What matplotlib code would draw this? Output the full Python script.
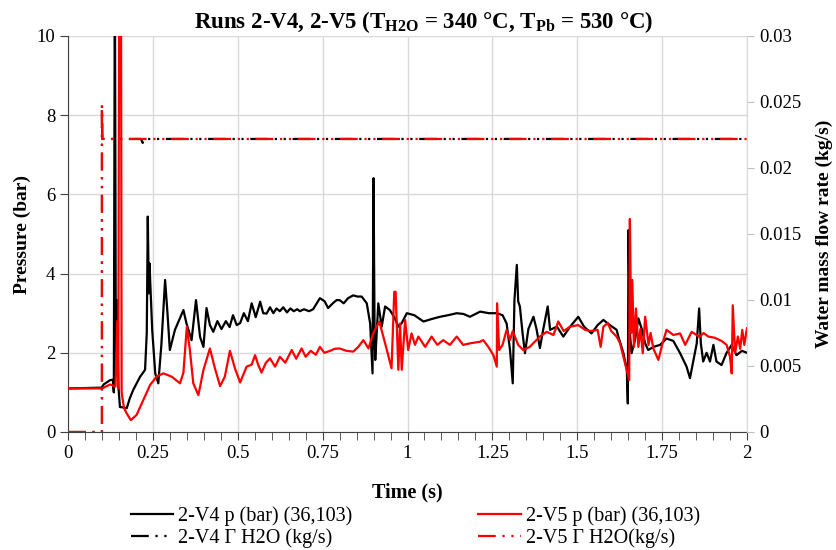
import matplotlib
matplotlib.use("Agg")
import matplotlib.pyplot as plt

plt.rcParams['font.family'] = ['Liberation Serif', 'DejaVu Serif']
plt.rcParams['mathtext.fontset'] = 'custom'
plt.rcParams['mathtext.rm'] = 'Liberation Serif:bold'
plt.rcParams['mathtext.it'] = 'Liberation Serif:bold'
plt.rcParams['mathtext.bf'] = 'Liberation Serif:bold'

# ---------------- data ----------------
v4_t = [0, 0.099, 0.105, 0.124, 0.132, 0.135, 0.138, 0.141, 0.145, 0.148, 0.153, 0.163, 0.173,
        0.182, 0.192, 0.212, 0.227, 0.232, 0.235, 0.238, 0.240, 0.248, 0.257, 0.266, 0.275,
        0.286, 0.293, 0.300, 0.315, 0.340, 0.349, 0.364, 0.377, 0.389, 0.399, 0.408, 0.418,
        0.428, 0.44, 0.452, 0.465, 0.476, 0.486, 0.497, 0.507, 0.518, 0.53, 0.541, 0.553,
        0.566, 0.575, 0.585, 0.595, 0.605, 0.614, 0.624, 0.634, 0.645, 0.655, 0.665, 0.675,
        0.683, 0.695, 0.71, 0.722, 0.742, 0.756, 0.766, 0.78, 0.791, 0.8, 0.812, 0.825,
        0.84, 0.853, 0.865, 0.88, 0.89, 0.897, 0.9, 0.903, 0.905, 0.914, 0.924, 0.934,
        0.948, 0.963, 0.973, 0.983, 0.998, 1.02, 1.047, 1.07, 1.096, 1.12, 1.145, 1.165,
        1.184, 1.214, 1.24, 1.263, 1.28, 1.292, 1.302, 1.31, 1.315, 1.322, 1.326, 1.331,
        1.339, 1.346, 1.356, 1.371, 1.38, 1.39, 1.4, 1.413, 1.42, 1.44, 1.459, 1.479,
        1.503, 1.52, 1.542, 1.56, 1.577, 1.596, 1.616, 1.621, 1.636, 1.646, 1.649, 1.651,
        1.655, 1.66, 1.67, 1.68, 1.69, 1.7, 1.709, 1.725, 1.744, 1.763, 1.783, 1.803,
        1.822, 1.832, 1.842, 1.852, 1.859, 1.864, 1.871, 1.881, 1.891, 1.901, 1.91, 1.925,
        1.94, 1.955, 1.969, 1.985, 2.0]
v4_p = [1.1, 1.12, 1.2, 1.31, 1.32, 1.0, 12, 1.5, 3.33, 1.2, 0.63, 0.62, 0.6,
        0.85, 1.06, 1.39, 1.57, 2.5, 5.44, 3.5, 4.26, 2.58, 1.48, 1.23, 2.2,
        3.84, 3.0, 2.07, 2.58, 3.08, 2.74, 2.32, 3.33, 2.4, 2.15, 3.13, 2.7,
        2.53, 2.8, 2.6, 2.8, 2.65, 2.95, 2.7, 2.75, 3.0, 2.8, 3.25, 2.9,
        3.29, 3.0, 2.99, 3.15, 3.0, 3.12, 3.05, 3.15, 3.02, 3.12, 3.05, 3.1,
        3.05, 3.1, 3.05, 3.1, 3.38, 3.3, 3.13, 3.25, 3.33, 3.33, 3.25, 3.38,
        3.45, 3.42, 3.42, 3.25, 2.74, 1.48, 6.41, 2.5, 1.82, 3.25, 2.66, 3.17,
        3.08, 2.87, 2.66, 2.75, 3.0, 2.95, 2.79, 2.85, 2.91, 2.95, 3.0, 2.98,
        2.91, 3.04, 3.0, 3.0, 2.95, 2.74, 2.07, 1.23, 3.33, 4.22, 3.3, 3.17,
        2.49, 1.99, 2.6, 2.91, 2.6, 2.12, 2.6, 3.17, 2.58, 2.66, 2.41, 2.66,
        2.91, 2.66, 2.49, 2.7, 2.83, 2.7, 2.58, 2.41, 1.99, 1.57, 0.72, 5.1,
        2.5, 1.99, 2.32, 2.87, 2.6, 2.24, 2.07, 2.15, 2.2, 2.36, 2.3, 1.99,
        1.65, 1.36, 1.8, 2.24, 3.12, 2.24, 1.78, 2.0, 1.78, 2.2, 1.78, 1.69,
        2.0, 2.2, 1.94, 2.05, 2.0]

v5_t = [0, 0.1, 0.124, 0.14, 0.145, 0.148, 0.151, 0.156, 0.158, 0.165, 0.173, 0.185, 0.202,
        0.222, 0.242, 0.261, 0.281, 0.305, 0.33, 0.34, 0.35, 0.359, 0.369, 0.384, 0.399,
        0.418, 0.433, 0.448, 0.462, 0.477, 0.492, 0.507, 0.526, 0.541, 0.551, 0.56, 0.57,
        0.583, 0.595, 0.61, 0.624, 0.64, 0.659, 0.672, 0.688, 0.70, 0.715, 0.73, 0.742,
        0.755, 0.772, 0.785, 0.8, 0.82, 0.84, 0.855, 0.87, 0.885, 0.899, 0.917, 0.934,
        0.953, 0.961, 0.965, 0.973, 0.978, 0.983, 0.993, 1.002, 1.012, 1.022, 1.032, 1.052,
        1.071, 1.088, 1.105, 1.125, 1.145, 1.164, 1.185, 1.214, 1.223, 1.238, 1.253, 1.263,
        1.264, 1.27, 1.28, 1.292, 1.302, 1.31, 1.326, 1.341, 1.36, 1.39, 1.41, 1.43,
        1.444, 1.46, 1.479, 1.503, 1.523, 1.54, 1.56, 1.569, 1.577, 1.59, 1.6, 1.616,
        1.626, 1.641, 1.653, 1.655, 1.659, 1.662, 1.667, 1.673, 1.68, 1.686, 1.693, 1.7,
        1.71, 1.716, 1.724, 1.739, 1.75, 1.763, 1.783, 1.803, 1.818, 1.837, 1.86, 1.872,
        1.886, 1.905, 1.925, 1.94, 1.95, 1.955, 1.958, 1.965, 1.973, 1.98, 1.986, 1.992, 2.0]
v5_p = [1.1, 1.1, 1.2, 1.15, 2.8, 1.1, 12, 12, 1.0, 0.6, 0.47, 0.3, 0.43,
        0.81, 1.19, 1.4, 1.48, 1.4, 1.23, 1.5, 2.66, 2.07, 1.23, 0.93, 1.57,
        2.11, 1.6, 1.16, 1.4, 2.05, 1.6, 1.25, 1.65, 1.7, 1.94, 1.7, 1.5,
        1.75, 1.86, 1.65, 1.9, 1.75, 2.07, 1.85, 2.11, 1.9, 2.05, 1.95, 2.15,
        2.0, 2.05, 2.1, 2.11, 2.05, 2.03, 2.15, 2.32, 2.11, 2.49, 2.79, 2.24,
        1.61, 3.54, 3.54, 1.57, 2.74, 1.57, 2.83, 2.07, 2.49, 2.2, 2.41, 2.15,
        2.41, 2.2, 2.32, 2.2, 2.41, 2.2, 2.24, 2.28, 2.32, 2.15, 1.94, 1.65,
        3.25, 2.07, 2.2, 2.58, 2.32, 2.55, 2.2, 2.07, 2.15, 2.41, 2.53, 2.45,
        2.79, 2.55, 2.66, 2.7, 2.58, 2.55, 2.58, 2.15, 2.66, 2.75, 2.55, 2.41,
        2.24, 1.73, 1.31, 5.38, 2.5, 3.84, 2.15, 3.12, 2.15, 2.6, 1.99, 2.91,
        2.2, 2.5, 2.11, 1.82, 2.2, 2.58, 2.45, 2.49, 2.2, 2.53, 2.4, 2.5,
        2.41, 2.38, 2.3, 2.2, 1.9, 1.48, 3.2, 2.0, 2.41, 2.1, 2.58, 2.2, 2.62]

v4_flow_t = [0, 0.1, 0.1, 0.101, 0.215, 0.22, 0.225, 2.0]
v4_flow = [0, 0, 0.0248, 0.0222, 0.0222, 0.0219, 0.0222, 0.0222]
v5_flow_t = [0, 0.1, 0.1, 0.101, 2.0]
v5_flow = [0, 0, 0.0248, 0.0222, 0.0222]

x_ticks = [0, 0.25, 0.5, 0.75, 1, 1.25, 1.5, 1.75, 2]
x_labels = ['0', '0.25', '0.5', '0.75', '1', '1.25', '1.5', '1.75', '2']
y_ticks = [0, 2, 4, 6, 8, 10]
y2_ticks = [0, 0.005, 0.01, 0.015, 0.02, 0.025, 0.03]
y2_labels = ['0', '0.005', '0.01', '0.015', '0.02', '0.025', '0.03']

labels = ['2-V4 p (bar) (36,103)', '2-V5 p (bar) (36,103)',
          '2-V4 \u0393 H2O (kg/s)', '2-V5 \u0393 H2O(kg/s)']

# ---------------- figure ----------------
W, H = 836, 550
fig = plt.figure(figsize=(W / 100, H / 100), dpi=100)
ax = fig.add_axes([68 / W, (H - 432) / H, 679 / W, 396 / H])
ax2 = ax.twinx()

lw = 1.6
grid_c = '#d9d9d9'
dash = (0, (8, 3, 1, 3, 1, 3))

l1, = ax.plot(v4_t, v4_p, color='black', lw=lw, zorder=3)
l2, = ax.plot(v5_t, v5_p, color='#ff0000', lw=lw, zorder=4)
l3, = ax2.plot(v4_flow_t, v4_flow, color='black', lw=lw, linestyle=dash)
l4, = ax2.plot(v5_flow_t, v5_flow, color='#ff0000', lw=lw, linestyle=dash)

ax.set_xlim(0, 2)
ax.set_ylim(0, 10)
ax2.set_ylim(0, 0.03)

ax.set_xticks(x_ticks)
ax.set_xticklabels(x_labels)
ax.set_xticks([i * 0.05 for i in range(41)], minor=True)
ax.set_yticks(y_ticks)
ax2.set_yticks(y2_ticks)
ax2.set_yticklabels(y2_labels)

ax.grid(True, which='major', color=grid_c, lw=1.0, zorder=0)
ax.set_axisbelow(True)

ax.spines['top'].set_visible(False)
ax2.spines['top'].set_visible(False)
ax.spines['right'].set_visible(False)
ax2.spines['left'].set_visible(False)
ax2.spines['bottom'].set_visible(False)
ax2.spines['right'].set_color(grid_c)
ax.spines['left'].set_color('#404040')
ax.spines['bottom'].set_color('#404040')

fs_tick = 13.5
ax.tick_params(axis='both', which='major', labelsize=fs_tick, length=6, color='#404040',
               direction='out', pad=3)
ax.tick_params(axis='x', which='minor', length=6, color='#404040', direction='out')
ax2.tick_params(axis='y', labelsize=fs_tick, length=5, color='#bfbfbf', direction='out', pad=4)

ax.set_xlabel('Time (s)', fontsize=14.5, fontweight='bold', labelpad=15)
ax.set_ylabel('Pressure (bar)', fontsize=14, fontweight='bold', labelpad=4)
ax2.set_ylabel('Water mass flow rate (kg/s)', fontsize=14, fontweight='bold', labelpad=10)

ax.set_title('Runs 2-V4, 2-V5 (T$_{\\mathrm{H2O}}$ = 340 \u00b0C, T$_{\\mathrm{Pb}}$ = 530 \u00b0C)',
             fontsize=16.5, fontweight='bold', pad=6, x=(424 - 68) / 679)

fig.legend([l1, l3, l2, l4], [labels[0], labels[2], labels[1], labels[3]],
           loc='upper left', bbox_to_anchor=(131 / W, 1 - 506 / H), ncol=2, frameon=False,
           fontsize=14.5, handlelength=2.1, handletextpad=0.25, columnspacing=6.25,
           labelspacing=0.15, borderpad=0, borderaxespad=0)

fig.savefig('out.png', dpi=100)
